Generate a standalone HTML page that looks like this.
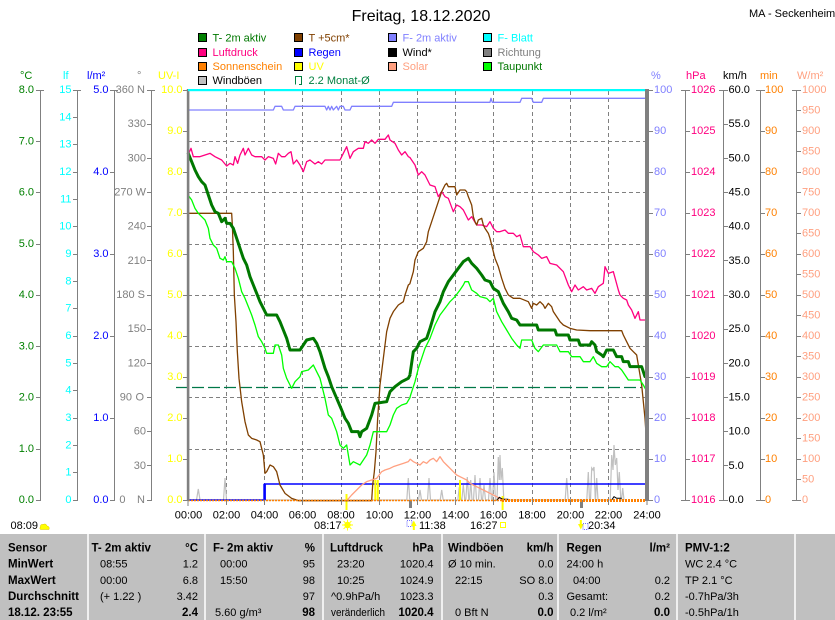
<!DOCTYPE html>
<html><head><meta charset="utf-8"><style>
html,body{margin:0;padding:0;background:#fff;}
svg{display:block;}
text{font-family:"Liberation Sans",Arial,sans-serif;}
</style></head><body>
<svg width="835" height="620" viewBox="0 0 835 620" xmlns="http://www.w3.org/2000/svg">
<rect x="0" y="0" width="835" height="620" fill="#fff"/>
<!-- Title -->
<text x="421" y="21" font-size="16" text-anchor="middle" fill="#000">Freitag, 18.12.2020</text>
<text x="749" y="17" font-size="11" fill="#000">MA - Seckenheim</text>

<!-- Legend -->
<g stroke="#000" stroke-width="1">
<rect x="198.5" y="33.5" width="8" height="8" fill="#008000"/>
<rect x="294.5" y="33.5" width="8" height="8" fill="#804000"/>
<rect x="388.5" y="33.5" width="8" height="8" fill="#8080ff"/>
<rect x="483.5" y="33.5" width="8" height="8" fill="#00ffff"/>
<rect x="198.5" y="48.5" width="8" height="8" fill="#ff0080"/>
<rect x="294.5" y="48.5" width="8" height="8" fill="#0000ff"/>
<rect x="388.5" y="48.5" width="8" height="8" fill="#000000"/>
<rect x="483.5" y="48.5" width="8" height="8" fill="#808080"/>
<rect x="198.5" y="62.5" width="8" height="8" fill="#ff8000"/>
<rect x="294.5" y="62.5" width="8" height="8" fill="#ffff00"/>
<rect x="388.5" y="62.5" width="8" height="8" fill="#ffa080"/>
<rect x="483.5" y="62.5" width="8" height="8" fill="#00ff00"/>
<rect x="198.5" y="76.5" width="8" height="8" fill="#c0c0c0"/>
</g>
<path d="M295.5 84.5V76.5H301.5V84.5H299" stroke="#008040" stroke-width="1" fill="none"/>
<g font-size="11">
<text x="212.5" y="41.5" fill="#007800">T- 2m aktiv</text>
<text x="308.5" y="41.5" fill="#804000">T +5cm*</text>
<text x="402.5" y="41.5" fill="#8080ff">F- 2m aktiv</text>
<text x="497.5" y="41.5" fill="#00ffff">F- Blatt</text>
<text x="212.5" y="56" fill="#ff0080">Luftdruck</text>
<text x="308.5" y="56" fill="#0000ff">Regen</text>
<text x="402.5" y="56" fill="#000">Wind*</text>
<text x="497.5" y="56" fill="#808080">Richtung</text>
<text x="212.5" y="70" fill="#ff8000">Sonnenschein</text>
<text x="308.5" y="70" fill="#ffff00">UV</text>
<text x="402.5" y="70" fill="#ffa080">Solar</text>
<text x="497.5" y="70" fill="#007800">Taupunkt</text>
<text x="212.5" y="84" fill="#000">Windböen</text>
<text x="308.5" y="84" fill="#008040">2.2 Monat-Ø</text>
</g>

<!-- Unit labels -->
<g font-size="11">
<text x="20" y="79" fill="#008000">°C</text>
<text x="63" y="79" fill="#00ffff">lf</text>
<text x="87" y="79" fill="#0000ff">l/m²</text>
<text x="137" y="79" fill="#808080">°</text>
<text x="158" y="79" fill="#ffff00">UV-I</text>
<text x="651" y="79" fill="#8080ff">%</text>
<text x="686" y="79" fill="#ff0080">hPa</text>
<text x="723" y="79" fill="#000">km/h</text>
<text x="760" y="79" fill="#ff8000">min</text>
<text x="797" y="79" fill="#ffa080">W/m²</text>
</g>

<!-- Grid -->
<g stroke="#808080" stroke-width="1" stroke-dasharray="4 3" shape-rendering="crispEdges">
<path d="M188 141.5H645M188 192.5H645M188 244.5H645M188 295.5H645M188 346.5H645M188 397.5H645M188 449.5H645"/>
<path d="M226.5 91V500M264.5 91V500M302.5 91V500M341.5 91V500M379.5 91V500M417.5 91V500M455.5 91V500M493.5 91V500M532.5 91V500M570.5 91V500M608.5 91V500"/>
</g>

<!-- Left axes -->
<g stroke="#808080" stroke-width="1" fill="none" shape-rendering="crispEdges">
<path d="M40.5 90V500M36 90.5H44M36 141.5H41M36 192.5H41M36 244.5H41M36 295.5H41M36 346.5H41M36 397.5H41M36 449.5H41M36 500.5H41"/>
<path d="M77.5 90V500M73 90.5H81M73 117.5H78M73 144.5H78M73 172.5H78M73 199.5H78M73 226.5H78M73 254.5H78M73 281.5H78M73 308.5H78M73 336.5H78M73 363.5H78M73 390.5H78M73 418.5H78M73 445.5H78M73 472.5H78M73 500.5H78"/>
<path d="M114.5 90V500M110 90.5H118M110 172.5H115M110 254.5H115M110 336.5H115M110 418.5H115M110 500.5H115"/>
<path d="M151.5 90V500M147 90.5H155M147 124.5H152M147 158.5H152M147 192.5H152M147 226.5H152M147 260.5H152M147 295.5H152M147 329.5H152M147 363.5H152M147 397.5H152M147 431.5H152M147 465.5H152M147 500.5H152"/>
<path d="M183 90.5H188M183 131.5H188M183 172.5H188M183 213.5H188M183 254.5H188M183 295.5H188M183 336.5H188M183 377.5H188M183 418.5H188M183 459.5H188M183 500.5H188"/>
</g>
<g font-size="11" dominant-baseline="central">
<g fill="#008000" text-anchor="end">
<text x="34" y="90">8.0</text><text x="34" y="141.25">7.0</text><text x="34" y="192.5">6.0</text><text x="34" y="243.75">5.0</text><text x="34" y="295">4.0</text><text x="34" y="346.25">3.0</text><text x="34" y="397.5">2.0</text><text x="34" y="448.75">1.0</text><text x="34" y="500">0.0</text>
</g>
<g fill="#00ffff" text-anchor="end">
<text x="71.5" y="90">15</text><text x="71.5" y="117.3">14</text><text x="71.5" y="144.7">13</text><text x="71.5" y="172">12</text><text x="71.5" y="199.3">11</text><text x="71.5" y="226.7">10</text><text x="71.5" y="254">9</text><text x="71.5" y="281.3">8</text><text x="71.5" y="308.7">7</text><text x="71.5" y="336">6</text><text x="71.5" y="363.3">5</text><text x="71.5" y="390.7">4</text><text x="71.5" y="418">3</text><text x="71.5" y="445.3">2</text><text x="71.5" y="472.7">1</text><text x="71.5" y="500">0</text>
</g>
<g fill="#0000ff" text-anchor="end">
<text x="108.5" y="90">5.0</text><text x="108.5" y="172">4.0</text><text x="108.5" y="254">3.0</text><text x="108.5" y="336">2.0</text><text x="108.5" y="418">1.0</text><text x="108.5" y="500">0.0</text>
</g>
<g fill="#808080" text-anchor="end">
<text x="145" y="90">360 N</text><text x="146" y="124.2">330</text><text x="146" y="158.3">300</text><text x="146" y="192.5">270 W</text><text x="146" y="226.7">240</text><text x="146" y="260.8">210</text><text x="145" y="295">180 S</text><text x="146" y="329.2">150</text><text x="146" y="363.3">120</text><text x="132" y="397.5">90</text><text x="144" y="397.5">O</text><text x="146" y="431.7">60</text><text x="146" y="465.8">30</text><text x="125.5" y="500">0</text><text x="145" y="500">N</text>
</g>
<g fill="#ffff00" text-anchor="end">
<text x="182.5" y="90">10.0</text><text x="182.5" y="131">9.0</text><text x="182.5" y="172">8.0</text><text x="182.5" y="213">7.0</text><text x="182.5" y="254">6.0</text><text x="182.5" y="295">5.0</text><text x="182.5" y="336">4.0</text><text x="182.5" y="377">3.0</text><text x="182.5" y="418">2.0</text><text x="182.5" y="459">1.0</text><text x="182.5" y="500">0.0</text>
</g>
</g>

<!-- Right axes -->
<g stroke="#808080" stroke-width="1" fill="none" shape-rendering="crispEdges">
<path d="M649 90.5H653M649 131.5H653M649 172.5H653M649 213.5H653M649 254.5H653M649 295.5H653M649 336.5H653M649 377.5H653M649 418.5H653M649 459.5H653M649 500.5H653"/>
<path d="M685.5 90V500M681 90.5H690M685 131.5H690M685 172.5H690M685 213.5H690M685 254.5H690M685 295.5H690M685 336.5H690M685 377.5H690M685 418.5H690M685 459.5H690M681 500.5H690"/>
<path d="M723.5 90V500M719 90.5H728M723 124.5H728M723 158.5H728M723 192.5H728M723 226.5H728M723 260.5H728M723 295.5H728M723 329.5H728M723 363.5H728M723 397.5H728M723 431.5H728M723 465.5H728M719 500.5H728"/>
<path d="M760.5 90V500M756 90.5H765M760 131.5H765M760 172.5H765M760 213.5H765M760 254.5H765M760 295.5H765M760 336.5H765M760 377.5H765M760 418.5H765M760 459.5H765M756 500.5H765"/>
<path d="M796.5 90V500M792 90.5H801M796 110.5H801M796 131.5H801M796 151.5H801M796 172.5H801M796 192.5H801M796 213.5H801M796 233.5H801M796 254.5H801M796 274.5H801M796 295.5H801M796 315.5H801M796 336.5H801M796 356.5H801M796 377.5H801M796 397.5H801M796 418.5H801M796 438.5H801M796 459.5H801M796 479.5H801M792 500.5H801"/>
</g>
<g font-size="11" dominant-baseline="central">
<g fill="#8080ff">
<text x="654" y="90">100</text><text x="654" y="131">90</text><text x="654" y="172">80</text><text x="654" y="213">70</text><text x="654" y="254">60</text><text x="654" y="295">50</text><text x="654" y="336">40</text><text x="654" y="377">30</text><text x="654" y="418">20</text><text x="654" y="459">10</text><text x="654" y="500">0</text>
</g>
<g fill="#ff0080">
<text x="691" y="90">1026</text><text x="691" y="131">1025</text><text x="691" y="172">1024</text><text x="691" y="213">1023</text><text x="691" y="254">1022</text><text x="691" y="295">1021</text><text x="691" y="336">1020</text><text x="691" y="377">1019</text><text x="691" y="418">1018</text><text x="691" y="459">1017</text><text x="691" y="500">1016</text>
</g>
<g fill="#000">
<text x="728.5" y="90">60.0</text><text x="728.5" y="124.2">55.0</text><text x="728.5" y="158.3">50.0</text><text x="728.5" y="192.5">45.0</text><text x="728.5" y="226.7">40.0</text><text x="728.5" y="260.8">35.0</text><text x="728.5" y="295">30.0</text><text x="728.5" y="329.2">25.0</text><text x="728.5" y="363.3">20.0</text><text x="728.5" y="397.5">15.0</text><text x="728.5" y="431.7">10.0</text><text x="728.5" y="465.8">5.0</text><text x="728.5" y="500">0.0</text>
</g>
<g fill="#ff8000">
<text x="765" y="90">100</text><text x="765" y="131">90</text><text x="765" y="172">80</text><text x="765" y="213">70</text><text x="765" y="254">60</text><text x="765" y="295">50</text><text x="765" y="336">40</text><text x="765" y="377">30</text><text x="765" y="418">20</text><text x="765" y="459">10</text><text x="765" y="500">0</text>
</g>
<g fill="#ffa080">
<text x="802" y="90">1000</text><text x="802" y="110.5">950</text><text x="802" y="131">900</text><text x="802" y="151.5">850</text><text x="802" y="172">800</text><text x="802" y="192.5">750</text><text x="802" y="213">700</text><text x="802" y="233.5">650</text><text x="802" y="254">600</text><text x="802" y="274.5">550</text><text x="802" y="295">500</text><text x="802" y="315.5">450</text><text x="802" y="336">400</text><text x="802" y="356.5">350</text><text x="802" y="377">300</text><text x="802" y="397.5">250</text><text x="802" y="418">200</text><text x="802" y="438.5">150</text><text x="802" y="459">100</text><text x="802" y="479.5">50</text><text x="802" y="500">0</text>
</g>
</g>

<!-- Monthly mean dashed line -->
<path d="M176 387.5H642" stroke="#007848" stroke-width="1.3" stroke-dasharray="12 4" fill="none"/>

<!-- Windböen spikes -->
<polyline fill="none" stroke="#c0c0c0" stroke-width="1.2" points="188,500 196.5,500 198.3,489 200,500 223.5,500 225,478 226.5,500 406.8,500 408.3,478 409.8,500 418.5,500 420,490 421.5,500 427.5,500 429,478 430.5,500 440.2,500 441.7,490 443.2,500 457.8,500 459.3,487 460.8,500 461.8,500 463.3,485 464.8,500 465.8,500 467.3,477 468.8,500 469.5,500 470.7,480 472,500 473.5,500 475,475 476.5,500 478.5,500 480,478 481.5,500 482.5,500 484,485 485.5,500 488.5,500 490,478 491.5,500 492.5,500 494,472 495.5,500 497,500 498.3,457 499.3,480 500,455 501,480 502.3,468 503.8,500 565.2,500 566.7,478 568.2,500 586.8,500 588.3,472 589.5,500 590.5,500 591.7,468 593,470 594,467 595.3,500 595.5,500 596.7,478 598,500 610.2,500 611.7,455 613,470 614,445 615.3,465 616.7,458 618,490 619.3,472 620.8,500 621.5,500 622.7,488 624,500"/>

<!-- Regen -->
<path d="M188 500H264.5V484H647" stroke="#0000ff" stroke-width="1.4" fill="none"/>
<rect x="263.3" y="484" width="2.6" height="16" fill="#0000ff"/>

<!-- UV / sun markers -->
<g stroke="#ffff00" stroke-width="2" fill="none">
<path d="M346.5 494V510"/>
<path d="M375.3 480V500M377.8 480V500"/>
<path d="M460 480V500"/>
<path d="M502.6 496V510"/>
</g>
<!-- moon ticks -->
<path d="M410.5 500V508M581.5 500V508" stroke="#808080" stroke-width="3"/>

<!-- series in zoom coordinates: zoom10 group -->
<g transform="translate(185 85) scale(0.333333)" fill="none" stroke-linejoin="round">
<polyline vector-effect="non-scaling-stroke" stroke="#8080ff" stroke-width="1.3" points="9,75 265,75 270,64 290,64 295,75 325,75 330,64 420,64 425,75 430,64 435,75 440,64 445,75 455,64 460,75 465,64 475,64 480,75 495,75 500,64 620,64 625,52 676,52"/>
<polyline vector-effect="non-scaling-stroke" stroke="#ff0080" stroke-width="1.3" points="9,210 18,190 25,215 45,215 75,205 90,215 110,225 125,243 135,235 145,240 150,215 158,235 165,210 175,190 180,210 190,190 200,210 210,215 230,215 240,225 250,215 265,220 272,237 280,205 290,215 300,215 310,205 318,200 325,237 335,225 345,240 355,260 365,230 375,225 390,237 400,230 410,237 420,225 430,225 465,225 475,205 485,185 495,220 505,200 520,190 535,190 540,170 550,175 560,165 570,175 580,163 600,163 610,150 615,165 630,175 640,195 650,210 660,200 670,215 676,218"/>
<polyline vector-effect="non-scaling-stroke" stroke="#804000" stroke-width="1.3" points="9,385 140,385 142,420 145,500 148,630 153,710 157,800 162,880 170,950 180,1010 190,1050 200,1060 215,1065 225,1070 235,1110 240,1165 245,1160 255,1140 265,1145 275,1160 285,1200 300,1225 320,1240 340,1247 560,1247 563,1200 568,1160 573,1100 578,1000 585,900 595,820 605,740 615,700 625,680 640,660 655,650 660,630 670,600 676,595"/>
<polyline vector-effect="non-scaling-stroke" stroke="#ffa080" stroke-width="1.3" points="485,1247 500,1230 515,1215 530,1200 545,1190 560,1185 575,1180 590,1160 600,1155 615,1150 625,1145 640,1140 655,1135 670,1130 676,1122"/>
<polyline vector-effect="non-scaling-stroke" stroke="#00ff00" stroke-width="1.3" points="9,330 20,345 30,370 40,385 50,395 60,405 70,430 75,460 85,480 95,490 105,520 115,525 120,515 125,530 140,530 150,550 160,580 170,620 180,640 190,665 200,690 210,720 220,755 230,770 240,790 245,805 265,805 270,780 280,780 290,810 295,850 305,880 315,900 320,910 330,890 345,875 350,860 370,855 385,840 395,860 405,880 420,940 430,990 440,1000 455,1040 465,1080 475,1090 485,1080 495,1140 505,1130 515,1135 525,1140 545,1110 555,1080 565,1040 605,1040 615,1020 625,990 635,970 650,960 665,955 676,936"/>
<polyline vector-effect="non-scaling-stroke" stroke="#007800" stroke-width="3" points="9,203 20,230 30,255 40,275 50,290 60,300 70,330 80,360 90,380 100,385 110,410 120,400 125,415 135,415 145,430 155,460 165,490 175,520 185,540 195,575 205,600 215,625 225,650 235,670 245,690 275,690 285,710 295,735 305,760 315,795 345,795 355,780 365,765 385,760 395,775 405,800 420,850 430,875 440,905 455,940 470,975 480,1000 490,1015 500,1040 520,1040 525,1055 530,1040 545,1030 560,990 570,955 605,950 615,920 630,905 650,890 670,880 676,868"/>
</g>
<!-- zoom11 group -->
<g transform="translate(410 85) scale(0.333333)" fill="none" stroke-linejoin="round">
<polyline vector-effect="non-scaling-stroke" stroke="#8080ff" stroke-width="1.3" points="0,52 240,52 243,40 247,52 330,52 335,40 365,40 370,52 395,52 400,40 711,40"/>
<polyline vector-effect="non-scaling-stroke" stroke="#ff0080" stroke-width="1.3" points="0,218 15,240 25,270 35,260 45,270 60,300 75,305 85,335 95,320 105,335 115,340 130,380 140,360 150,365 160,375 175,405 185,395 200,420 215,420 230,425 240,410 250,430 260,440 270,440 285,435 295,445 310,445 320,455 330,450 340,485 360,485 370,500 385,510 395,520 410,515 420,535 440,540 460,560 475,600 485,620 495,600 505,615 520,605 530,615 545,610 555,625 565,605 580,595 585,545 595,565 610,560 625,615 630,630 640,640 650,645 655,660 665,675 675,700 685,680 690,705 711,705"/>
<polyline vector-effect="non-scaling-stroke" stroke="#804000" stroke-width="1.3" points="0,595 10,560 15,525 25,500 40,490 50,470 55,440 65,410 75,380 85,350 95,320 105,300 110,295 115,305 135,305 140,330 150,315 165,315 170,320 175,335 185,360 190,395 195,410 200,420 205,405 215,400 220,420 225,430 235,445 240,460 250,500 255,520 265,545 275,580 285,610 295,630 310,640 330,640 355,650 365,670 370,655 380,660 390,650 400,660 405,670 415,655 425,665 430,680 440,695 450,710 460,720 480,730 500,735 540,737 635,737 640,750 650,770 660,790 670,800 680,810 685,840 690,870 695,900 700,950 705,1000 707,1030"/>
<polyline vector-effect="non-scaling-stroke" stroke="#ffa080" stroke-width="1.3" points="0,1122 10,1130 20,1135 30,1140 40,1130 50,1135 60,1125 70,1120 80,1130 90,1115 100,1130 110,1140 120,1150 130,1160 140,1170 150,1175 160,1180 170,1185 180,1195 190,1200 200,1205 220,1215 240,1225 260,1235 280,1247"/>
<polyline vector-effect="non-scaling-stroke" stroke="#00ff00" stroke-width="1.3" points="0,936 15,890 25,850 35,820 45,790 60,760 75,720 90,690 105,670 120,650 135,635 150,615 160,600 165,590 175,590 185,615 200,625 210,635 230,640 240,650 250,640 260,680 275,710 290,735 305,760 320,780 330,790 335,765 365,765 375,790 385,800 400,780 440,780 450,800 475,800 485,815 510,815 520,830 540,830 550,815 560,835 575,845 590,845 600,830 615,845 625,845 635,855 645,870 655,885 690,885 700,900 711,920"/>
<polyline vector-effect="non-scaling-stroke" stroke="#007800" stroke-width="3" points="0,868 10,800 20,790 30,770 50,760 60,730 75,680 90,650 100,620 115,590 130,570 145,550 160,530 175,520 185,535 200,550 215,570 225,585 240,590 250,610 265,620 280,655 295,680 305,700 320,705 330,720 380,720 385,735 435,735 440,750 475,750 480,765 505,765 510,780 540,780 545,770 555,780 560,800 575,810 580,815 590,795 610,795 620,815 635,815 640,830 655,830 660,845 695,845 705,875 711,875"/>
</g>

<!-- Wind* black bumps -->
<polyline fill="none" stroke="#000" stroke-width="1" points="496.7,500.5 499.3,497.3 501,498.3 502.7,499.3 508.3,499.3"/>
<polyline fill="none" stroke="#000" stroke-width="1" points="611.7,500 614,496.7 616.7,498.3 621.7,498.3"/>

<!-- Sonnenschein bottom line -->
<path d="M188 500.5H502" stroke="#ff8000" stroke-width="1.5" stroke-dasharray="2 1"/>
<path d="M502 500.5H645" stroke="#ff8000" stroke-width="3" stroke-dasharray="2 1"/>

<!-- Plot frame -->
<rect x="186.8" y="89" width="2.6" height="412" fill="#808080"/>
<rect x="645" y="89" width="4" height="412" fill="#808080"/>
<rect x="188" y="89" width="457" height="2.2" fill="#00ffff"/>

<!-- x ticks -->
<path d="M188 500V506M226.5 500V505M264.5 500V505M302.5 500V505M341.5 500V505M379.5 500V505M417.5 500V505M455.5 500V505M493.5 500V505M532.5 500V505M570.5 500V505M608.5 500V505M647 500V505" stroke="#808080" stroke-width="1"/>

<!-- x labels -->
<g font-size="11" text-anchor="middle" fill="#000">
<text x="188.5" y="518.5">00:00</text><text x="226.5" y="518.5">02:00</text><text x="264.5" y="518.5">04:00</text><text x="302.5" y="518.5">06:00</text><text x="341" y="518.5">08:00</text><text x="379.5" y="518.5">10:00</text><text x="417.5" y="518.5">12:00</text><text x="455.5" y="518.5">14:00</text><text x="493.5" y="518.5">16:00</text><text x="532" y="518.5">18:00</text><text x="570.5" y="518.5">20:00</text><text x="608.5" y="518.5">22:00</text><text x="647" y="518.5">24:00</text>
</g>

<!-- markers row -->
<g font-size="11" fill="#000">
<text x="10.5" y="529">08:09</text>
<text x="314" y="529">08:17</text>
<text x="419" y="529">11:38</text>
<text x="470" y="529">16:27</text>
<text x="588" y="529">20:34</text>
</g>
<path d="M40.5 529.5h8.5q1-3-2-3.5q-1-3-4-1.5q-3-0.5-2.5 2.5q-1.5 1 0 2.5z" fill="#ffff00" stroke="#e0c000" stroke-width="0.5"/>
<circle cx="347.5" cy="525" r="3.2" fill="#ffff00"/>
<path d="M347.5 519.5V530.5M342 525H353M343.6 521.1L351.4 528.9M343.6 528.9L351.4 521.1" stroke="#ffff00" stroke-width="0.9"/>
<rect x="407" y="520.5" width="5" height="6" fill="none" stroke="#4040ff" stroke-width="0.8" stroke-dasharray="1 1"/>
<polygon points="411,526 413.8,520.5 416.6,526" fill="#ffff00"/>
<rect x="412.8" y="526" width="2" height="4" fill="#ffff00"/>
<rect x="500.5" y="522.5" width="5" height="5" fill="none" stroke="#ffff00" stroke-width="1"/>
<polygon points="578,524 580.8,529.5 583.6,524" fill="#ffff00"/>
<rect x="579.8" y="520" width="2" height="4" fill="#ffff00"/>
<rect x="583" y="523.5" width="5" height="6" fill="none" stroke="#4040ff" stroke-width="0.8" stroke-dasharray="1 1"/>

<!-- Table -->
<rect x="0" y="534" width="835" height="86" fill="#c0c0c0"/>
<g stroke="#ffffff" stroke-width="1.5">
<path d="M88 531V620M205 531V620M323 531V620M442 531V620M558 531V620M677 531V620M795 531V620"/>
</g>
<g font-size="11.5" font-weight="bold" fill="#000">
<text x="8" y="551.5">Sensor</text>
<text x="8" y="567.5">MinWert</text>
<text x="8" y="584">MaxWert</text>
<text x="8" y="600">Durchschnitt</text>
<text x="8" y="616">18.12. 23:55</text>
<text x="91.5" y="551.5">T- 2m aktiv</text>
<text x="198" y="551.5" text-anchor="end">°C</text>
<text x="213" y="551.5">F- 2m aktiv</text>
<text x="315" y="551.5" text-anchor="end">%</text>
<text x="330" y="551.5">Luftdruck</text>
<text x="433.5" y="551.5" text-anchor="end">hPa</text>
<text x="448" y="551.5">Windböen</text>
<text x="553.5" y="551.5" text-anchor="end">km/h</text>
<text x="566.5" y="551.5">Regen</text>
<text x="670" y="551.5" text-anchor="end">l/m²</text>
<text x="685" y="551.5">PMV-1:2</text>
<text x="198" y="616" text-anchor="end">2.4</text>
<text x="315" y="616" text-anchor="end">98</text>
<text x="433.5" y="616" text-anchor="end">1020.4</text>
<text x="553.5" y="616" text-anchor="end">0.0</text>
<text x="670" y="616" text-anchor="end">0.0</text>
</g>
<g font-size="11" fill="#000">
<text x="100" y="567.5">08:55</text><text x="198" y="567.5" text-anchor="end">1.2</text>
<text x="100" y="584">00:00</text><text x="198" y="584" text-anchor="end">6.8</text>
<text x="100" y="600">(+ 1.22 )</text><text x="198" y="600" text-anchor="end">3.42</text>
<text x="220" y="567.5">00:00</text><text x="315" y="567.5" text-anchor="end">95</text>
<text x="220" y="584">15:50</text><text x="315" y="584" text-anchor="end">98</text>
<text x="315" y="600" text-anchor="end">97</text>
<text x="215" y="616">5.60 g/m³</text>
<text x="337" y="567.5">23:20</text><text x="433.5" y="567.5" text-anchor="end">1020.4</text>
<text x="337" y="584">10:25</text><text x="433.5" y="584" text-anchor="end">1024.9</text>
<text x="331" y="600">^0.9hPa/h</text><text x="433.5" y="600" text-anchor="end">1023.3</text>
<text x="331" y="616" textLength="54" lengthAdjust="spacingAndGlyphs">veränderlich</text>
<text x="448" y="567.5">Ø 10 min.</text><text x="553.5" y="567.5" text-anchor="end">0.0</text>
<text x="455" y="584">22:15</text><text x="553.5" y="584" text-anchor="end">SO 8.0</text>
<text x="553.5" y="600" text-anchor="end">0.3</text>
<text x="455" y="616">0 Bft N</text>
<text x="566.5" y="567.5">24:00 h</text>
<text x="573" y="584">04:00</text><text x="670" y="584" text-anchor="end">0.2</text>
<text x="566.5" y="600">Gesamt:</text><text x="670" y="600" text-anchor="end">0.2</text>
<text x="570" y="616">0.2 l/m²</text>
<text x="685" y="567.5">WC 2.4 °C</text>
<text x="685" y="584">TP 2.1 °C</text>
<text x="685" y="600">-0.7hPa/3h</text>
<text x="685" y="616">-0.5hPa/1h</text>
</g>
</svg>
</body></html>
